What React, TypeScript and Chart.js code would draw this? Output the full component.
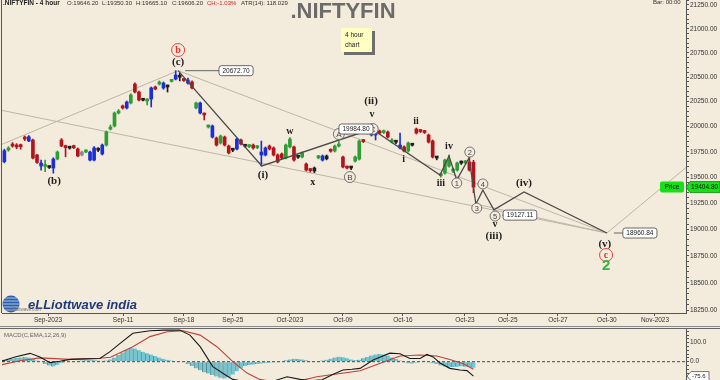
import React, { useEffect, useRef } from "react";
import { Chart, registerables } from "chart.js";

Chart.register(...registerables);

// ---------------- data ----------------
const candleOpen = [
  19658, 19652, 19767, 19826, 19816, 19816, 19895, 19856, 19866, 19718,
  19610, 19605, 19600, 19590, 19678, 19866, 19806, 19787, 19806, 19777,
  19718, 19747, 19668, 19668, 19767, 19728, 19816, 19975, 20005, 20135,
  20206, 20186, 20236, 20428, 20347, 20266, 20256, 20276, 20398, 20428,
  20388, 20400, 20455, 20479, 20500, 20475, 20438, 20449, 20186, 20135,
  20125, 19995, 19895, 19885, 19836, 19895, 19806, 19767, 19777, 19866,
  19806, 19800, 19816, 19790, 19718, 19718, 19806, 19787, 19718, 19728,
  19688, 19797, 19797, 19698, 19698, 19629, 19575, 19590, 19690, 19668,
  19708, 19767, 19757, 19806, 19698, 19600, 19592, 19658, 19678, 19860,
  19935, 19915, 19915, 19955, 19940, 19945, 19846, 19846, 19787, 19797,
  19757, 19816, 19975, 19960, 19950, 19915, 19856, 19690, 19515, 19540,
  19609, 19560, 19570, 19640, 19640, 19649, 19646.2,
];
const candleHigh = [
  19680, 19775, 19800, 19840, 19830, 19826, 19905, 19910, 19875, 19725,
  19668, 19668, 19610, 19690, 19757, 19880, 19815, 19800, 19815, 19787,
  19757, 19770, 19757, 19800, 19790, 19826, 19955, 20015, 20145, 20170,
  20216, 20256, 20330, 20440, 20357, 20276, 20280, 20398, 20408, 20460,
  20450, 20418, 20475, 20565, 20540, 20485, 20490, 20460, 20246, 20246,
  20135, 20015, 20015, 19895, 19915, 19905, 19816, 19780, 19885, 19875,
  19816, 19820, 19826, 19810, 19855, 19797, 19816, 19797, 19728, 19738,
  19826, 19890, 19806, 19710, 19748, 19640, 19585, 19600, 19715, 19718,
  19718, 19777, 19816, 19850, 19708, 19610, 19605, 19708, 19866, 19870,
  19985, 19975, 19960, 19965, 19965, 19955, 19880, 19856, 19935, 19807,
  19846, 19826, 19985, 19970, 19960, 19925, 19866, 19700, 19540, 19678,
  19718, 19590, 19649, 19660, 19665, 19690, 19665.1,
];
const candleLow = [
  19625, 19640, 19755, 19795, 19780, 19775, 19860, 19850, 19680, 19635,
  19570, 19555, 19585, 19540, 19670, 19800, 19700, 19775, 19780, 19700,
  19708, 19740, 19660, 19660, 19750, 19718, 19806, 19965, 19995, 20125,
  20175, 20175, 20226, 20337, 20256, 20256, 20216, 20196, 20370, 20418,
  20375, 20347, 20448, 20470, 20460, 20455, 20428, 20378, 20176, 20125,
  20065, 19985, 19885, 19806, 19826, 19806, 19728, 19750, 19767, 19816,
  19795, 19790, 19775, 19780, 19610, 19708, 19767, 19708, 19640, 19678,
  19678, 19787, 19658, 19685, 19688, 19560, 19550, 19545, 19680, 19658,
  19670, 19745, 19747, 19797, 19590, 19580, 19575, 19648, 19668, 19840,
  19925, 19905, 19866, 19925, 19930, 19885, 19836, 19830, 19777, 19748,
  19747, 19806, 19925, 19940, 19930, 19836, 19688, 19670, 19500, 19530,
  19599, 19545, 19560, 19625, 19630, 19560, 19350.3,
];
const candleClose = [
  19639, 19760, 19787, 19806, 19797, 19800, 19875, 19898, 19688, 19645,
  19639, 19615, 19595, 19678, 19747, 19806, 19790, 19785, 19790, 19708,
  19747, 19760, 19747, 19787, 19765, 19816, 19945, 19995, 20135, 20155,
  20186, 20246, 20317, 20347, 20266, 20264, 20270, 20388, 20378, 20440,
  20438, 20398, 20465, 20520, 20498, 20464, 20469, 20388, 20236, 20236,
  20115, 20005, 20005, 19816, 19905, 19816, 19738, 19765, 19875, 19826,
  19804, 19810, 19787, 19800, 19747, 19787, 19777, 19718, 19649, 19688,
  19816, 19875, 19668, 19696, 19738, 19570, 19565, 19560, 19705, 19708,
  19680, 19755, 19806, 19816, 19600, 19590, 19590, 19698, 19856, 19850,
  19965, 19955, 19945, 19935, 19950, 19895, 19866, 19844, 19816, 19757,
  19836, 19814, 19935, 19950, 19940, 19846, 19698, 19688, 19530, 19668,
  19668, 19575, 19639, 19638, 19655, 19570, 19404.8,
];
const candleTone = (
  "rbgrrrrbrr" + "bgkbgrrkrr" + "ygbbkbgggg" + "rbgrrkgbrg" + "bkgbkrbrgb" +
  "rgbrgrrkbr" + "kgrgbbrrrr" + "ggrkgrrkgb" + "krggrrkggr" + "gbbrgrgkbr" +
  "gkrrrrrkgg" + "gggkgrr"
).split("");

const xTickPos = [11.7, 30.1, 45.0, 57.0, 71.0, 84.0, 98.7, 113.9, 124.4, 136.7, 148.7, 160.5];
const xTickLabels = ["Sep-2023", "Sep-11", "Sep-18", "Sep-25", "Oct-2023", "Oct-09", "Oct-16", "Oct-23", "Oct-25", "Oct-27", "Oct-30", "Nov-2023"];

// Elliott wave count path (bar index, price)
const waveK = [43.6, 64.1, 91.1, 107.8, 110, 111.9, 114.9, 116.6, 118.3, 121, 128.4, 148.7];
const waveV = [20565, 19610, 19975, 19522, 19707, 19473, 19688, 19241, 19376, 19185, 19357, 18965];

// light trend / channel lines
const riseLineK = [0, 43.6];
const riseLineV = [19816, 20565];
const upperChannelK = [43.6, 148.7];
const upperChannelV = [20565, 18965];
const lowerChannelK = [0, 148.7];
const lowerChannelV = [20165, 18965];
const projectionK = [148.7, 168.1];
const projectionV = [18965, 19595];
const innerLineK = [116.6, 148.7];
const innerLineV = [19241, 18965];

const waveLabelText = ["(b)", "b", "(c)", "w", "(i)", "x", "A", "B", "(ii)", "v", "C", "ii", "i", "iv", "iii", "1", "2", "3", "4", "5", "v", "(iii)", "(iv)", "(v)", "c", "2"];
const waveLabelK = [13.2, 43.6, 43.6, 71, 64.4, 76.6, 83, 85.7, 90.9, 91.1, 91.3, 101.9, 98.9, 110, 108, 111.9, 115.1, 116.8, 118.3, 121.3, 121.3, 121, 128.4, 148.2, 148.5, 148.5];
const waveLabelV = [19463, 20778, 20654, 19955, 19522, 19454, 19925, 19502, 20256, 20125, 19975, 20055, 19678, 19806, 19444, 19444, 19747, 19202, 19435, 19126, 19050, 18937, 19444, 18862, 18758, 18654];
const waveLabelKind = ["p", "r", "p", "s", "p", "s", "C", "C", "p", "s", "C", "s", "s", "s", "s", "c", "c", "c", "c", "c", "s", "p", "p", "p", "r", "g"];

const boxText = ["20672.70", "19984.80", "19127.11", "18960.84"];
const boxK = [57.8, 87.2, 127.4, 156.8];
const boxV = [20565, 19975, 19135, 18965];
const boxFromK = [43.6, null, 121.3, 148.7];

const lastPrice = 19404.8;
const headerText = [".NIFTYFIN - 4 hour", "O:19646.20", "L:19350.30", "H:19665.10", "C:19606.20", "CH:-1.03%", "ATR(14): 118.029"];

const macdHist = [
  8, 10, 12, 15, 20, 22, 25, 22, 15, 6,
  -3, -12, -20, -25, -18, -8, -3, 2, 4, 5,
  6, 8, 8, 7, 6, 5, 6, 12, 22, 35,
  48, 62, 72, 70, 60, 52, 45, 38, 30, 22,
  15, 10, 6, 4, 2, 0, -12, -22, -35, -45,
  -55, -62, -70, -78, -85, -88, -82, -68, -50, -35,
  -22, -18, -15, -12, -10, -8, -6, -4, -1, 2,
  8, 12, 15, 14, 12, 8, 4, 2, 4, 6,
  10, 16, 22, 26, 24, 18, 12, 8, 10, 18,
  25, 32, 38, 40, 38, 32, 22, 14, 6, -4,
  -8, -10, -6, 2, 5, -2, -8, -12, -20, -25,
  -30, -28, -26, -24, -26, -28, -32,
];
const macdLineK = [0, 3.6, 7.3, 9.7, 12.2, 14.6, 17.1, 20.8, 24.4, 26.9, 29.3, 32.5, 36.7, 40.4, 44, 46.5, 49, 52.1, 55.6, 57, 60, 63.6, 67.3, 70.3, 73.5, 76, 78.9, 81.5, 84, 86.2, 88.2, 91.4, 95.5, 98, 100.4, 102.9, 104.6, 106.1, 107.8, 110.2, 112.7, 114.4, 116];
const macdLineV = [0, 25, 44, 25, -5, 2, 12, 15, 17, 53, 95, 150, 163, 166, 167, 140, 79, -26, -75, -93, -105, -110, -100, -79, -93, -100, -95, -68, -44, -40, -35, 9, 45, 42, 17, 17, 38, 25, -7, -35, -44, -47, -75.6];
const signalK = [0, 4.8, 9.7, 17, 24.4, 27, 32.5, 36.7, 40.9, 44.8, 49, 53.1, 57, 60.5, 63.6, 67, 73.5, 77.6, 88.2, 93, 98, 102.9, 107, 110.2, 113.4, 116];
const signalV = [-17, 5, 20, 12, 18, 23, 79, 132, 158, 163, 140, 79, 0, -60, -93, -105, -100, -79, -48, -9, 30, 35, 30, 12, -9, -40];

// ---------------- styling ----------------
const SANS = '"Liberation Sans", Arial, sans-serif';
const SERIF = '"Liberation Serif", "DejaVu Serif", serif';
const toneColor: any = { r: "#b3141c", g: "#2e9e34", b: "#1b2fd8", k: "#1e1e1e", y: "#8a8a8a" };
const X_MIN = 0.42;
const X_MAX = 168.1;

function roundRect(ctx: any, x: number, y: number, w: number, h: number, r: number) {
  ctx.beginPath();
  ctx.moveTo(x + r, y);
  ctx.lineTo(x + w - r, y);
  ctx.quadraticCurveTo(x + w, y, x + w, y + r);
  ctx.lineTo(x + w, y + h - r);
  ctx.quadraticCurveTo(x + w, y + h, x + w - r, y + h);
  ctx.lineTo(x + r, y + h);
  ctx.quadraticCurveTo(x, y + h, x, y + h - r);
  ctx.lineTo(x, y + r);
  ctx.quadraticCurveTo(x, y, x + r, y);
  ctx.closePath();
}

function noPad(s: any) {
  s.paddingTop = 0;
  s.paddingBottom = 0;
  s.paddingLeft = 0;
  s.paddingRight = 0;
}

const mainOverlay = {
  id: "mainOverlay",
  afterDraw(chart: any) {
    const { ctx, chartArea } = chart;
    const xs = chart.scales.x;
    const ys = chart.scales.y;
    const px = (k: number) => xs.getPixelForValue(k);
    const py = (v: number) => ys.getPixelForValue(v);
    ctx.save();

    // left frame
    ctx.strokeStyle = "#555";
    ctx.lineWidth = 1;
    ctx.beginPath();
    ctx.moveTo(1.5, 0);
    ctx.lineTo(1.5, chartArea.bottom);
    ctx.stroke();

    // header
    ctx.textBaseline = "alphabetic";
    ctx.textAlign = "left";
    ctx.fillStyle = "#222";
    ctx.font = `bold 6.5px ${SANS}`;
    ctx.fillText(headerText[0], 3, 4.5);
    ctx.font = `6px ${SANS}`;
    const hx = [67, 102, 136, 172, 207, 241];
    for (let i = 1; i < headerText.length; i++) {
      ctx.fillStyle = headerText[i].startsWith("CH") ? "#e02020" : "#333";
      ctx.fillText(headerText[i], hx[i - 1], 4.5);
    }
    ctx.fillStyle = "#333";
    ctx.fillText("Bar: 00:00", 653, 3.5);

    // title
    ctx.font = `bold 22px ${SANS}`;
    ctx.fillStyle = "#6b6b6b";
    ctx.textAlign = "center";
    ctx.textBaseline = "middle";
    ctx.fillText(".NIFTYFIN", 343, 12);

    // info box
    ctx.fillStyle = "#6e6e6e";
    ctx.fillRect(344, 31, 31, 24);
    ctx.fillStyle = "#ffffc2";
    ctx.fillRect(341, 28, 31, 24);
    ctx.fillStyle = "#222";
    ctx.font = `6.5px ${SANS}`;
    ctx.textAlign = "left";
    ctx.fillText("4 hour", 345, 35);
    ctx.fillText("chart", 345, 45);

    // wave labels
    for (let i = 0; i < waveLabelText.length; i++) {
      const x = px(waveLabelK[i]);
      const y = py(waveLabelV[i]);
      const t = waveLabelText[i];
      const kind = waveLabelKind[i];
      ctx.textAlign = "center";
      ctx.textBaseline = "middle";
      if (kind === "p") {
        ctx.font = `bold 11px ${SERIF}`;
        ctx.fillStyle = "#222";
        ctx.fillText(t, x, y);
      } else if (kind === "s") {
        ctx.font = `bold 10px ${SERIF}`;
        ctx.fillStyle = "#222";
        ctx.fillText(t, x, y);
      } else if (kind === "c" || kind === "C") {
        const r = kind === "C" ? 5.5 : 5;
        ctx.beginPath();
        ctx.arc(x, y, r, 0, Math.PI * 2);
        ctx.fillStyle = "#f3ebdb";
        ctx.fill();
        ctx.strokeStyle = "#555";
        ctx.lineWidth = 0.8;
        ctx.stroke();
        ctx.fillStyle = "#444";
        ctx.font = `${kind === "C" ? 8 : 7.5}px ${SANS}`;
        ctx.fillText(t, x, y + 0.5);
      } else if (kind === "r") {
        ctx.beginPath();
        ctx.arc(x, y, 6.5, 0, Math.PI * 2);
        ctx.strokeStyle = "#e53030";
        ctx.lineWidth = 0.9;
        ctx.stroke();
        ctx.fillStyle = "#e53030";
        ctx.font = `bold 10px ${SERIF}`;
        ctx.fillText(t, x, y);
      } else if (kind === "g") {
        ctx.fillStyle = "#3cb043";
        ctx.font = `bold 15px ${SANS}`;
        ctx.fillText(t, x, y);
      }
    }

    // price boxes
    ctx.font = `6.5px ${SANS}`;
    for (let i = 0; i < boxText.length; i++) {
      const cx = px(boxK[i]);
      const cy = py(boxV[i]);
      const w = ctx.measureText(boxText[i]).width + 7;
      const left = cx - w / 2;
      if (boxFromK[i] !== null) {
        ctx.strokeStyle = "#444";
        ctx.lineWidth = 0.8;
        ctx.beginPath();
        ctx.moveTo(px(boxFromK[i] as number) + 7, cy);
        ctx.lineTo(left, cy);
        ctx.stroke();
      }
      roundRect(ctx, left, cy - 5, w, 10, 2.5);
      ctx.fillStyle = "#ffffff";
      ctx.fill();
      ctx.strokeStyle = "#444";
      ctx.lineWidth = 0.8;
      ctx.stroke();
      ctx.fillStyle = "#222";
      ctx.textAlign = "center";
      ctx.textBaseline = "middle";
      ctx.fillText(boxText[i], cx, cy + 0.5);
    }

    // price tag
    const yp = py(lastPrice);
    roundRect(ctx, 660, yp - 5.5, 24, 11, 2);
    ctx.fillStyle = "#16e016";
    ctx.fill();
    ctx.fillStyle = "#111";
    ctx.font = `6.5px ${SANS}`;
    ctx.textAlign = "center";
    ctx.fillText("Price", 672, yp + 0.5);
    ctx.beginPath();
    ctx.moveTo(686, yp);
    ctx.lineTo(690, yp - 5.5);
    ctx.lineTo(720, yp - 5.5);
    ctx.lineTo(720, yp + 5.5);
    ctx.lineTo(690, yp + 5.5);
    ctx.closePath();
    ctx.fillStyle = "#16e016";
    ctx.fill();
    ctx.strokeStyle = "#0a8a0a";
    ctx.lineWidth = 0.8;
    ctx.stroke();
    ctx.fillStyle = "#111";
    ctx.textAlign = "left";
    ctx.fillText(lastPrice.toFixed(2), 691, yp + 0.5);

    // logo
    const gx = 11, gy = 304;
    ctx.beginPath();
    ctx.arc(gx, gy, 8.5, 0, Math.PI * 2);
    ctx.fillStyle = "#2d5ea8";
    ctx.fill();
    ctx.strokeStyle = "#bcd3ee";
    ctx.lineWidth = 0.9;
    for (let d = -6; d <= 6; d += 3) {
      const hw = Math.sqrt(Math.max(0, 72 - d * d));
      ctx.beginPath();
      ctx.moveTo(gx - hw, gy + d);
      ctx.lineTo(gx + hw, gy + d);
      ctx.stroke();
    }
    ctx.font = `bold italic 13px ${SANS}`;
    ctx.fillStyle = "#1f3a7a";
    ctx.textAlign = "left";
    ctx.textBaseline = "alphabetic";
    ctx.fillText("eLLiottwave india", 28, 309);
    ctx.font = `4.5px ${SANS}`;
    ctx.fillStyle = "#777";
    ctx.fillText("elliottwave.com", 10, 311);

    ctx.restore();
  },
};

const macdOverlay = {
  id: "macdOverlay",
  afterDraw(chart: any) {
    const { ctx } = chart;
    const ys = chart.scales.y;
    ctx.save();
    ctx.strokeStyle = "#8a8a8a";
    ctx.lineWidth = 1;
    ctx.beginPath();
    ctx.moveTo(0, 0.5);
    ctx.lineTo(720, 0.5);
    ctx.stroke();
    ctx.strokeStyle = "#666";
    ctx.beginPath();
    ctx.moveTo(0, 2.5);
    ctx.lineTo(720, 2.5);
    ctx.stroke();

    ctx.font = `6px ${SANS}`;
    ctx.fillStyle = "#666";
    ctx.textAlign = "left";
    ctx.textBaseline = "middle";
    ctx.fillText("MACD(C,EMA,12,26,9)", 4, 9);

    const last = macdLineV[macdLineV.length - 1];
    const y = ys.getPixelForValue(last);
    ctx.beginPath();
    ctx.moveTo(687, y);
    ctx.lineTo(691, y - 4.5);
    ctx.lineTo(709, y - 4.5);
    ctx.lineTo(709, y + 4.5);
    ctx.lineTo(691, y + 4.5);
    ctx.closePath();
    ctx.fillStyle = "#ffffff";
    ctx.fill();
    ctx.strokeStyle = "#555";
    ctx.lineWidth = 0.8;
    ctx.stroke();
    ctx.fillStyle = "#222";
    ctx.fillText(last.toFixed(1), 692, y + 0.5);
    ctx.restore();
  },
};

function lineDs(ks: number[], vs: number[], color: string, width: number, order: number, dash?: number[]) {
  return {
    type: "line",
    data: ks.map((k, i) => ({ x: k, y: vs[i] })),
    borderColor: color,
    borderWidth: width,
    borderDash: dash || [],
    pointRadius: 0,
    tension: 0,
    fill: false,
    order,
  };
}

function mainConfig(): any {
  const colors = candleTone.map((t) => toneColor[t]);
  const yTicks: number[] = [];
  for (let v = 18250; v <= 21300; v += 50) yTicks.push(v);
  const grey = "#bdb5a6";
  return {
    type: "bar",
    data: {
      datasets: [
        lineDs(riseLineK, riseLineV, grey, 1, 10),
        lineDs(upperChannelK, upperChannelV, grey, 1, 10),
        lineDs(lowerChannelK, lowerChannelV, grey, 1, 10),
        lineDs(projectionK, projectionV, grey, 1, 10),
        lineDs(innerLineK, innerLineV, grey, 1, 10),
        {
          type: "bar",
          data: candleOpen.map((_, i) => ({ x: i, y: [candleLow[i], candleHigh[i]] })),
          backgroundColor: colors,
          barThickness: 1,
          grouped: false,
          order: 5,
        },
        {
          type: "bar",
          data: candleOpen.map((o, i) => ({ x: i, y: [Math.min(o, candleClose[i]), Math.max(o, candleClose[i])] })),
          backgroundColor: colors,
          barThickness: 3,
          minBarLength: 2,
          grouped: false,
          order: 4,
        },
        lineDs(waveK, waveV, "#4a4a4a", 1.3, 1),
      ],
    },
    options: {
      responsive: false,
      animation: false,
      devicePixelRatio: 1,
      layout: { padding: { left: 2, right: 0, top: 0, bottom: 0 } },
      plugins: { legend: { display: false }, tooltip: { enabled: false } },
      scales: {
        x: {
          type: "linear",
          min: X_MIN,
          max: X_MAX,
          offset: false,
          afterBuildTicks: (s: any) => {
            s.ticks = xTickPos.map((v) => ({ value: v }));
          },
          afterFit: (s: any) => {
            s.height = 13;
            noPad(s);
          },
          ticks: {
            autoSkip: false,
            maxRotation: 0,
            padding: 0,
            color: "#333",
            font: { size: 6.5, family: SANS },
            callback: (_v: any, i: number) => xTickLabels[i],
          },
          grid: { drawOnChartArea: false, drawTicks: true, tickLength: 3, color: "#555", offset: false },
          border: { display: true, color: "#555" },
        },
        y: {
          type: "logarithmic",
          position: "right",
          min: 18223,
          max: 21303,
          afterBuildTicks: (s: any) => {
            s.ticks = yTicks.map((v) => ({ value: v }));
          },
          afterFit: (s: any) => {
            s.width = 34;
            noPad(s);
          },
          ticks: {
            autoSkip: false,
            padding: 1,
            color: "#333",
            font: { size: 6.5, family: SANS },
            callback: (v: any) => (Math.round(v) % 250 === 0 ? Number(v).toFixed(2) : ""),
          },
          grid: { drawOnChartArea: false, drawTicks: true, tickLength: 3, color: "#555" },
          border: { display: true, color: "#555" },
        },
      },
    },
    plugins: [mainOverlay],
  };
}

function macdConfig(): any {
  const yTicks: number[] = [];
  for (let v = -80; v <= 160; v += 20) yTicks.push(v);
  return {
    type: "bar",
    data: {
      datasets: [
        {
          type: "bar",
          data: macdHist.map((h, i) => ({ x: i, y: h })),
          backgroundColor: "#74c6d2",
          borderColor: "#5b8f98",
          borderWidth: { left: 1, right: 0, top: 0, bottom: 0 },
          borderSkipped: false,
          barThickness: 4,
          grouped: false,
          order: 5,
        },
        lineDs([X_MIN, X_MAX], [0, 0], "#222", 0.8, 3, [3, 2]),
        lineDs(signalK, signalV, "#c0403a", 1.1, 2),
        lineDs(macdLineK, macdLineV, "#1a1a1a", 1.1, 1),
      ],
    },
    options: {
      responsive: false,
      animation: false,
      devicePixelRatio: 1,
      layout: { padding: { left: 2, right: 0, top: 3, bottom: 0 } },
      plugins: { legend: { display: false }, tooltip: { enabled: false } },
      scales: {
        x: {
          type: "linear",
          min: X_MIN,
          max: X_MAX,
          offset: false,
          display: false,
          grid: { offset: false },
        },
        y: {
          type: "linear",
          position: "right",
          min: -96.3,
          max: 172.1,
          afterBuildTicks: (s: any) => {
            s.ticks = yTicks.map((v) => ({ value: v }));
          },
          afterFit: (s: any) => {
            s.width = 34;
            noPad(s);
          },
          ticks: {
            autoSkip: false,
            padding: 1,
            color: "#333",
            font: { size: 6.5, family: SANS },
            callback: (v: any) => (v === 0 || v === 100 ? Number(v).toFixed(1) : ""),
          },
          grid: { drawOnChartArea: false, drawTicks: true, tickLength: 3, color: "#555" },
          border: { display: true, color: "#555" },
        },
      },
    },
    plugins: [macdOverlay],
  };
}

export default function App() {
  const mainRef = useRef<HTMLCanvasElement>(null);
  const macdRef = useRef<HTMLCanvasElement>(null);
  useEffect(() => {
    const main = new Chart(mainRef.current as any, mainConfig());
    const macd = new Chart(macdRef.current as any, macdConfig());
    return () => {
      main.destroy();
      macd.destroy();
    };
  }, []);
  return (
    <div style={{ position: "absolute", left: 0, top: 0, width: 720, height: 380, background: "#f3ebdb", overflow: "hidden" }}>
      <canvas ref={mainRef} width={720} height={326} style={{ position: "absolute", left: 0, top: 0 }} />
      <canvas ref={macdRef} width={720} height={54} style={{ position: "absolute", left: 0, top: 326 }} />
    </div>
  );
}
